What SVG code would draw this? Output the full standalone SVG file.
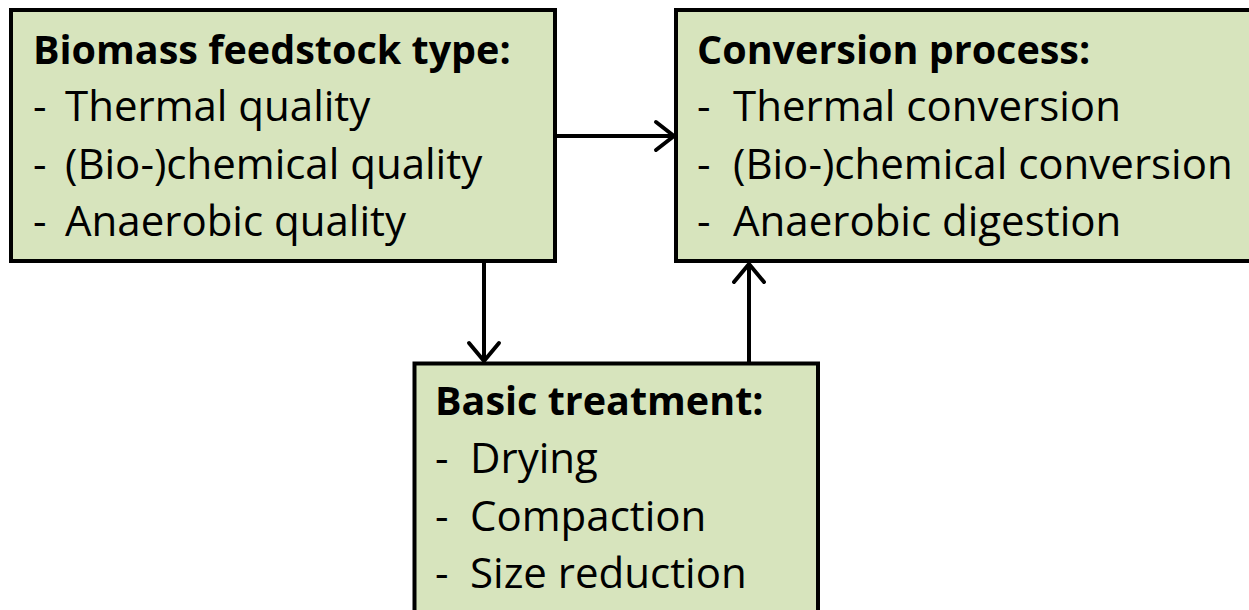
<svg xmlns="http://www.w3.org/2000/svg" width="1249" height="610" viewBox="0 0 1249 610">
<defs>
<style>
.box{fill:#d7e4bd;stroke:#000;stroke-width:4}
.t{font-family:"Open Sans","Noto Sans","Liberation Sans",sans-serif;font-size:42px;fill:#000}
.b{font-weight:bold;font-size:39.5px}
.edge{fill:none;stroke:#000;stroke-width:4}
.head{fill:none;stroke:#000;stroke-width:4;stroke-linecap:round;stroke-linejoin:round}
</style>
</defs>
<rect width="1249" height="610" fill="#fff"/>
<g id="feedstock">
<rect class="box" x="11" y="10" width="544" height="251"/>
<text class="t b" x="33" y="64">Biomass feedstock type:</text>
<text class="t" x="33" y="121">-</text><text class="t" x="65" y="121">Thermal quality</text>
<text class="t" x="33" y="179">-</text><text class="t" x="65" y="179">(Bio-)chemical quality</text>
<text class="t" x="33" y="236">-</text><text class="t" x="65" y="236">Anaerobic quality</text>
</g>
<g id="conversion">
<rect class="box" x="676" y="10" width="600" height="251"/>
<text class="t b" x="697" y="64">Conversion process:</text>
<text class="t" x="697" y="121">-</text><text class="t" x="733" y="121">Thermal conversion</text>
<text class="t" x="697" y="179">-</text><text class="t" x="733" y="179">(Bio-)chemical conversion</text>
<text class="t" x="697" y="236">-</text><text class="t" x="733" y="236">Anaerobic digestion</text>
</g>
<g id="treatment">
<rect class="box" x="414.5" y="363.5" width="403.5" height="300"/>
<text class="t b" x="435" y="415">Basic treatment:</text>
<text class="t" x="435" y="473">-</text><text class="t" x="470" y="473">Drying</text>
<text class="t" x="435" y="531">-</text><text class="t" x="470" y="531">Compaction</text>
<text class="t" x="435" y="588">-</text><text class="t" x="470" y="588">Size reduction</text>
</g>
<g id="connectors">
<path class="edge" d="M555 136H674"/>
<path class="head" d="M656 122L674 136L656 150"/>
<path class="edge" d="M484 261V361"/>
<path class="head" d="M469 343L484 361L499 343"/>
<path class="edge" d="M749 363V264"/>
<path class="head" d="M734 282L749 264L764 282"/>
</g>
</svg>
